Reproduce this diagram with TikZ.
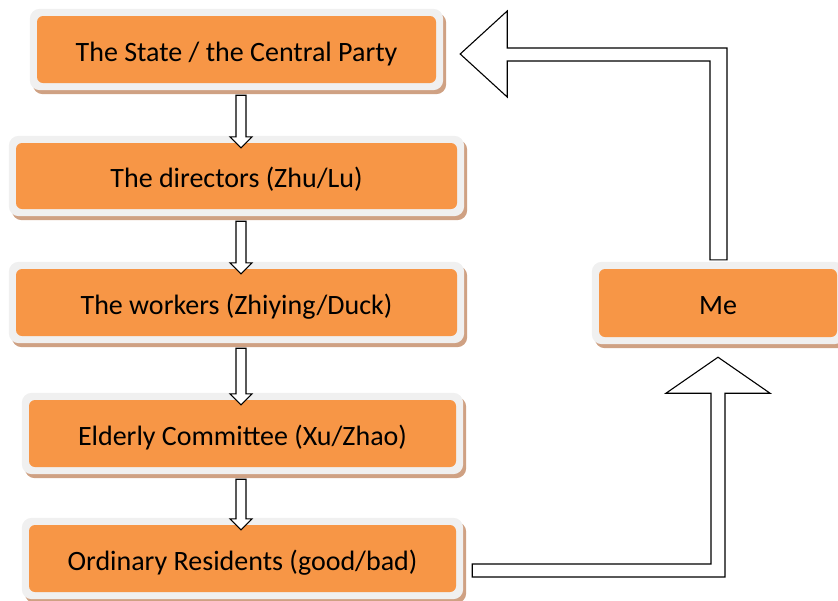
\documentclass[tikz,border=0pt]{standalone}
\usepackage{fontspec}
\setmainfont{Carlito}
\usetikzlibrary{calc,backgrounds}
\definecolor{boxorange}{HTML}{F79646}
\definecolor{framegray}{HTML}{F0F0F0}
\definecolor{shadowtan}{HTML}{CFA183}
\tikzset{
  orangebox/.style={fill=boxorange, rounded corners=6pt, inner sep=0pt,
    text height=23pt, text depth=0pt,
    font=\fontsize{28}{33}\selectfont, text=black},
  hollow/.style={draw=black, fill=white, line width=1.1pt, line join=miter}
}
\newcommand\smallarrow[2]{%
  \draw[hollow] let \p1=(#1.south), \p2=(#2.north) in
    (236pt,\y1-12pt) -- (246pt,\y1-12pt) -- (246pt,\y2+6pt) -- (252pt,\y2+6pt)
    -- (241pt,\y2-5pt) -- (230pt,\y2+6pt) -- (236pt,\y2+6pt) -- cycle;}
\begin{document}
\begin{tikzpicture}[x=1pt,y=-1pt]
\useasboundingbox (0,0) rectangle (838,600);
\clip (0,0) rectangle (838,600);
\node[orangebox, minimum width=399pt, minimum height=67pt] (state) at (236.5,49.5) {The State / the Central Party};
\node[orangebox, minimum width=441pt, minimum height=66pt] (dir) at (236.5,176) {The directors (Zhu/Lu)};
\node[orangebox, minimum width=441pt, minimum height=67pt] (work) at (236.5,302.5) {The workers (Zhiying/Duck)};
\node[orangebox, minimum width=427pt, minimum height=67pt] (eld) at (242.5,433.5) {Elderly Committee (Xu/Zhao)};
\node[orangebox, minimum width=427pt, minimum height=67pt] (res) at (242.5,558.5) {Ordinary Residents (good/bad)};
\node[orangebox, minimum width=238pt, minimum height=68pt] (me) at (718,303) {Me};
\begin{scope}[on background layer]
\foreach \n in {state,dir,work,eld,res,me}{
  \fill[shadowtan, rounded corners=10pt] ($(\n.south west)+(-4pt,-11pt)$) rectangle ($(\n.north east)+(10pt,3pt)$);
  \fill[framegray, rounded corners=10pt] ($(\n.south west)+(-7pt,-7pt)$) rectangle ($(\n.north east)+(7pt,7pt)$);
}
\end{scope}
\smallarrow{state}{dir}
\smallarrow{dir}{work}
\smallarrow{work}{eld}
\smallarrow{eld}{res}
\draw[hollow] let \p1=(res.east), \p2=(me.south) in
  (\x1+16pt,\y1-5.5pt) -- (\x2-7pt,\y1-5.5pt) -- (\x2-7pt,\y2-56pt) -- (\x2-52pt,\y2-56pt)
  -- (\x2,\y2-20pt) -- (\x2+52pt,\y2-56pt) -- (\x2+7pt,\y2-56pt) -- (\x2+7pt,\y1-18.5pt)
  -- (\x1+16pt,\y1-18.5pt) -- cycle;
\draw[hollow] let \p1=(me.north), \p2=(state.east) in
  (\x2+24pt,\y2-4.5pt) -- (\x2+71pt,\y2+38.5pt) -- (\x2+71pt,\y2+1.5pt) -- (\x1+9pt,\y2+1.5pt)
  -- (\x1+9pt,\y1+9pt) -- (\x1-8pt,\y1+9pt) -- (\x1-8pt,\y2-11.5pt) -- (\x2+71pt,\y2-11.5pt)
  -- (\x2+71pt,\y2-47.5pt) -- cycle;
\end{tikzpicture}
\end{document}
